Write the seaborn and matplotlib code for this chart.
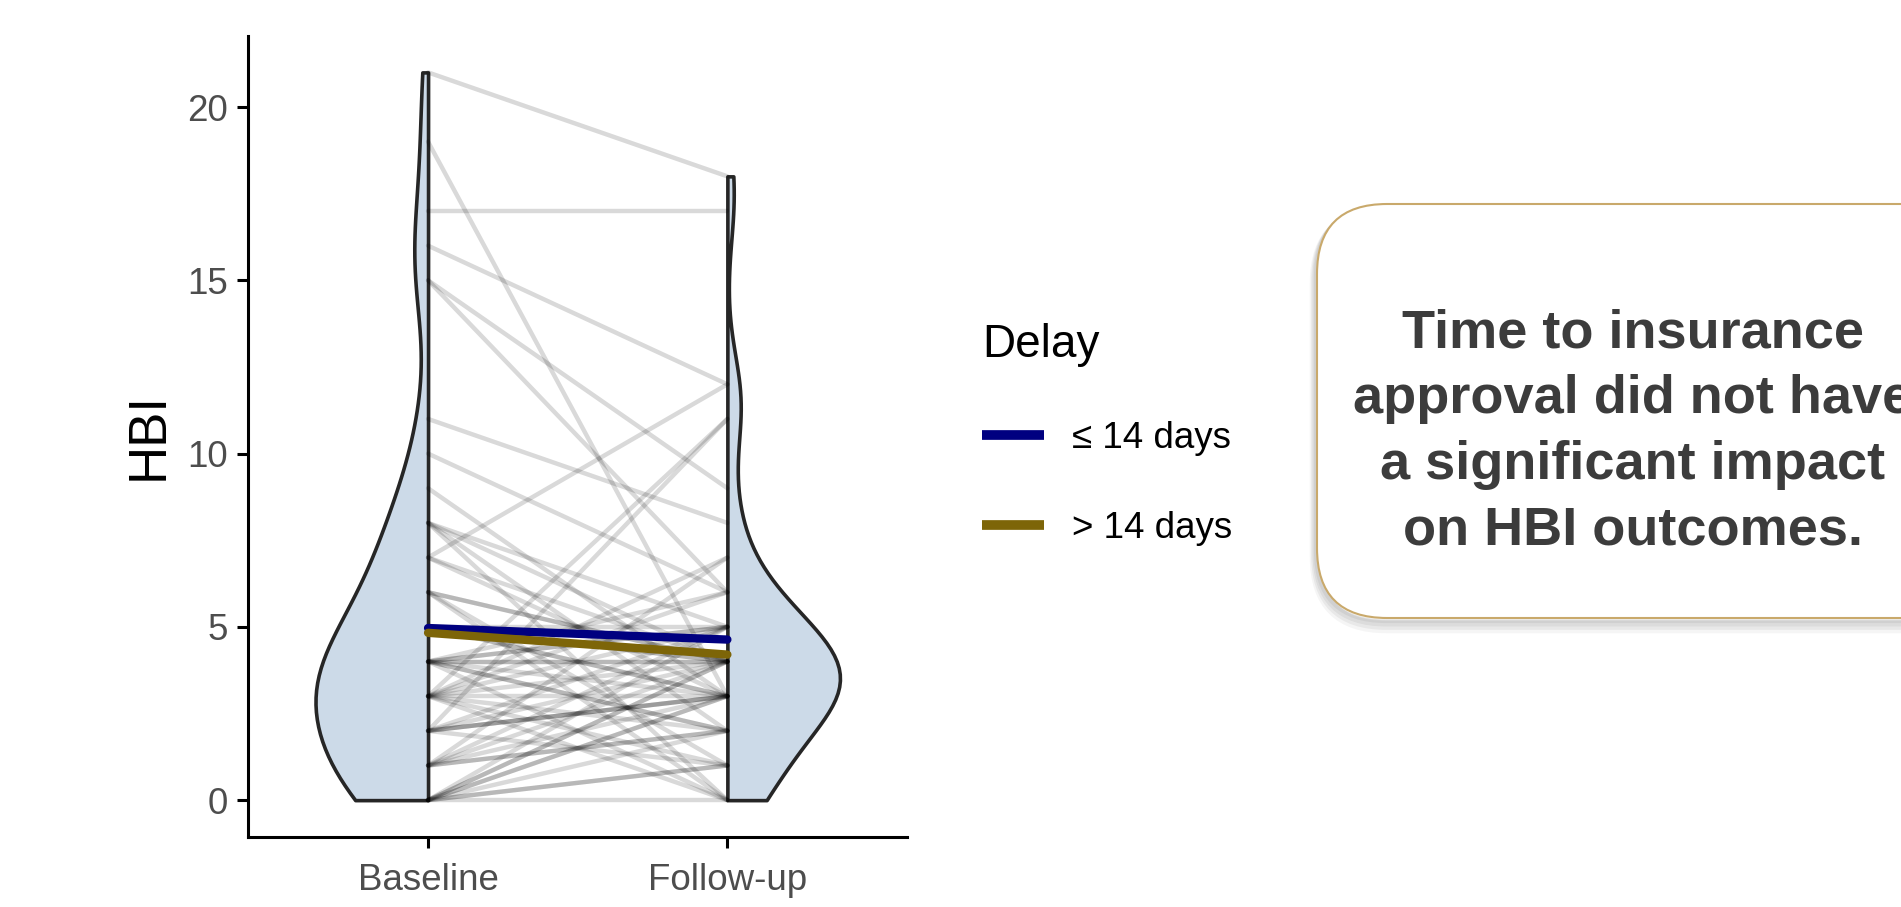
import numpy as np
import pandas as pd
import seaborn as sns
import matplotlib.pyplot as plt
from matplotlib.lines import Line2D
from matplotlib.patches import FancyBboxPatch
from matplotlib.transforms import Affine2D

# ---- data -------------------------------------------------------------
timepoints = ["Baseline", "Follow-up"]
delay_groups = ["\u2264 14 days", "> 14 days"]

# paired HBI scores, patients approved within 14 days
early_baseline = [21, 16, 15, 11, 9, 8, 7, 6, 6, 5, 5, 4, 4, 4, 3,
                  3, 3, 3, 2, 2, 2, 1, 1, 1, 0, 0, 0, 3, 4, 0]
early_followup = [18, 12, 6, 8, 3, 5, 4, 0, 4, 3, 4, 2, 5, 6, 3,
                  1, 11, 4, 5, 3, 3, 4, 2, 5, 3, 1, 1, 7, 2, 4]

# paired HBI scores, patients approved after more than 14 days
late_baseline = [19, 17, 15, 10, 8, 8, 7, 7, 6, 6, 5, 5, 5, 4, 4, 4, 4, 3,
                 3, 3, 3, 2, 2, 2, 2, 1, 1, 1, 0, 0, 0, 0, 0, 4, 8]
late_followup = [3, 17, 9, 6, 4, 2, 12, 3, 4, 1, 5, 3, 4, 3, 4, 0, 4, 5,
                 2, 0, 6, 3, 11, 4, 1, 3, 7, 2, 4, 2, 5, 0, 3, 5, 0]

y_ticks = [0, 5, 10, 15, 20]
summary_text = ("Time to insurance\napproval did not have\n"
                "a significant impact\non HBI outcomes.")

# ---- styling ----------------------------------------------------------
violin_fill = "#CCDAE8"
outline = "#262626"
delay_colors = ["#000080", "#7D6508"]
tick_gray = "#4D4D4D"

sns.set_theme(style="ticks")
plt.rcParams["font.family"] = ["Liberation Sans", "DejaVu Sans"]

# ---- long table -------------------------------------------------------
rows = []
pid = 0
for grp, base, fu in [(delay_groups[0], early_baseline, early_followup),
                      (delay_groups[1], late_baseline, late_followup)]:
    for b, f in zip(base, fu):
        rows.append((pid, grp, timepoints[0], 0, b))
        rows.append((pid, grp, timepoints[1], 1, f))
        pid += 1
long = pd.DataFrame(rows, columns=["id", "Delay", "time", "pos", "HBI"])

# ---- figure -----------------------------------------------------------
fig = plt.figure(figsize=(19.01, 9.07), dpi=100)
ax = fig.add_axes([0.1307, 0.0777, 0.3464, 0.8826])

# half violins: baseline opens to the left, follow-up to the right
n_before = len(ax.collections)
sns.violinplot(data=long, x="time", y="HBI", hue="time",
               order=timepoints, hue_order=timepoints, split=True,
               dodge=False, inner=None, cut=0, density_norm="width",
               bw_adjust=0.8, width=0.376,
               palette=[violin_fill, violin_fill], linecolor=outline,
               linewidth=2.6, saturation=1, legend=False, ax=ax)
# put the flat side of each half violin on its category position
for coll, pos, side in zip(ax.collections[n_before:], [0, 1], [-1, 1]):
    xs = coll.get_paths()[0].vertices[:, 0]
    edge = xs.max() if side < 0 else xs.min()
    coll.set_transform(Affine2D().translate(pos - edge, 0) + ax.transData)

# individual trajectories
sns.lineplot(data=long, x="pos", y="HBI", units="id", estimator=None,
             color="black", alpha=0.15, linewidth=3.2, legend=False, ax=ax)

# group means
sns.lineplot(data=long, x="pos", y="HBI", hue="Delay",
             hue_order=delay_groups, palette=delay_colors,
             estimator="mean", errorbar=None, linewidth=6,
             legend=False, ax=ax)

ax.set_xlim(-0.6, 1.6)
ax.set_ylim(-1.05, 22.05)
ax.set_xticks([0, 1])
ax.set_xticklabels(timepoints)
ax.set_yticks(y_ticks)
ax.set_yticklabels([str(t) for t in y_ticks])
for lab in ax.get_xticklabels() + ax.get_yticklabels():
    lab.set_fontsize(26.5)
    lab.set_color(tick_gray)
ax.tick_params(axis="both", length=8, width=2.2, color="black", pad=7)
ax.tick_params(axis="x", pad=11)
for side in ["left", "bottom"]:
    ax.spines[side].set_linewidth(2.2)
    ax.spines[side].set_color("black")
sns.despine(ax=ax)
ax.set_xlabel("")
ax.set_ylabel("HBI", fontsize=38, color="black")
ax.yaxis.set_label_coords(-0.152, 0.5)
ax.yaxis.label.set_va("center")
ax.yaxis.label.set_ha("center")

# legend
handles = [Line2D([0], [0], color=c, lw=7, solid_capstyle="butt")
           for c in delay_colors]
leg = fig.legend(handles, delay_groups, title="Delay", loc="upper left",
                 bbox_to_anchor=(0.5168, 0.644), frameon=False,
                 fontsize=26.5, title_fontsize=33, handlelength=1.66,
                 handletextpad=0.78, labelspacing=1.48, borderpad=0,
                 borderaxespad=0, alignment="left")
leg.get_title().set_color("black")
for t in leg.get_texts():
    t.set_color("black")

# annotation box, drawn on a pixel-unit overlay
over = fig.add_axes([0, 0, 1, 1], zorder=5)
over.set_xlim(0, 1901)
over.set_ylim(907, 0)
over.axis("off")
bx, by, bw, bh, r = 1317, 204, 700, 414, 70
for i, a in enumerate([0.05, 0.05, 0.05, 0.04]):
    off = 3 + 2 * i
    over.add_patch(FancyBboxPatch((bx - 1, by + off), bw, bh,
                                  boxstyle=f"round,pad=0,rounding_size={r}",
                                  facecolor="none", edgecolor="black",
                                  linewidth=3 + 2 * i, alpha=a))
over.add_patch(FancyBboxPatch((bx, by), bw, bh,
                              boxstyle=f"round,pad=0,rounding_size={r}",
                              facecolor="white", edgecolor="#C9A96B",
                              linewidth=1.5))
over.text(1633, 432, summary_text, ha="center", va="center",
          fontsize=39, fontweight="bold", color="#3C3C3C",
          linespacing=1.40)

fig.savefig("out.png", dpi=100)
